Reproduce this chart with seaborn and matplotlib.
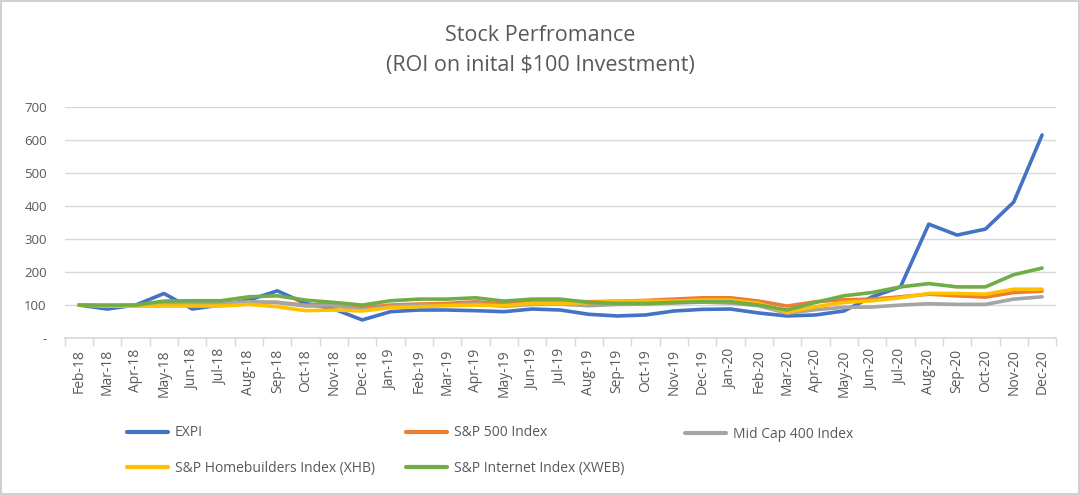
import numpy as np
import pandas as pd
import matplotlib
matplotlib.use("Agg")
import matplotlib.pyplot as plt
import seaborn as sns
from matplotlib.ticker import FixedLocator

months = ['Feb-18', 'Mar-18', 'Apr-18', 'May-18', 'Jun-18', 'Jul-18', 'Aug-18', 'Sep-18',
          'Oct-18', 'Nov-18', 'Dec-18', 'Jan-19', 'Feb-19', 'Mar-19', 'Apr-19', 'May-19',
          'Jun-19', 'Jul-19', 'Aug-19', 'Sep-19', 'Oct-19', 'Nov-19', 'Dec-19', 'Jan-20',
          'Feb-20', 'Mar-20', 'Apr-20', 'May-20', 'Jun-20', 'Jul-20', 'Aug-20', 'Sep-20',
          'Oct-20', 'Nov-20', 'Dec-20']

expi = [100, 88, 100, 135, 88, 100, 115, 143, 105, 88, 55, 80, 85, 85, 83, 80, 88, 85,
        72, 67, 70, 82, 87, 88, 76, 67, 70, 82, 125, 155, 345, 312, 330, 412, 615]
sp500 = [100, 97, 98, 100, 102, 105, 108, 108, 100, 102, 92, 100, 103, 105, 110, 103, 110, 112,
         110, 112, 114, 118, 122, 122, 112, 97, 110, 116, 118, 125, 133, 128, 124, 138, 142]
midcap = [100, 98, 100, 104, 105, 106, 110, 108, 97, 98, 86, 96, 100, 100, 104, 96, 102, 103,
          98, 102, 103, 106, 109, 106, 98, 75, 86, 93, 94, 100, 104, 102, 102, 118, 125]
homebuilders = [100, 97, 97, 97, 97, 97, 102, 95, 83, 85, 82, 92, 95, 98, 100, 98, 105, 105,
                107, 112, 112, 112, 115, 115, 105, 78, 95, 108, 113, 122, 135, 135, 133, 148, 148]
internet = [100, 100, 100, 112, 113, 113, 125, 128, 115, 108, 100, 113, 118, 118, 122, 112, 118, 118,
            108, 105, 105, 108, 110, 110, 100, 85, 108, 128, 138, 155, 165, 155, 155, 192, 212]

series_names = ['EXPI', 'S&P 500 Index', 'Mid Cap 400 Index',
                'S&P Homebuilders Index (XHB)', 'S&P Internet Index (XWEB)']
series_colors = ['#4472C4', '#ED7D31', '#A5A5A5', '#FFC000', '#70AD47']
y_ticks = [0, 100, 200, 300, 400, 500, 600, 700]
y_labels = ['-', '100', '200', '300', '400', '500', '600', '700']

# long table for seaborn
frames = []
for name, vals in zip(series_names, [expi, sp500, midcap, homebuilders, internet]):
    frames.append(pd.DataFrame({'Month': months, 'Value': vals, 'Series': name}))
df = pd.concat(frames, ignore_index=True)
df['idx'] = df['Month'].map({m: i for i, m in enumerate(months)})

sns.set_theme(style="white")
plt.rcParams['font.family'] = ['Open Sans', 'DejaVu Sans']
text_gray = '#595959'
grid_gray = '#d9d9d9'

fig = plt.figure(figsize=(10.8, 4.95), dpi=100, edgecolor='#d0d0d0', linewidth=1.5)
ax = fig.add_axes([0.060, 0.317, 0.918, 0.467])

sns.lineplot(data=df, x='idx', y='Value', hue='Series', hue_order=series_names,
             palette=series_colors, linewidth=2.6, ax=ax, legend=False)

ax.set_xlim(-0.5, len(months) - 0.5)
ax.set_ylim(0, 700)
ax.set_yticks(y_ticks)
ax.set_yticklabels(y_labels)
ax.yaxis.grid(True, color=grid_gray, linewidth=1)
ax.set_axisbelow(True)
ax.set_xticks(range(len(months)))
ax.set_xticklabels(months, rotation=90)
ax.xaxis.set_minor_locator(FixedLocator(np.arange(-0.5, len(months), 1.0)))
ax.tick_params(axis='x', which='major', length=0, pad=8, labelsize=10, labelcolor=text_gray)
ax.tick_params(axis='x', which='minor', length=6, width=1, color=grid_gray, direction='out', bottom=True)
ax.tick_params(axis='y', length=0, pad=13, labelsize=9.5, labelcolor=text_gray)
for s in ['top', 'right', 'left']:
    ax.spines[s].set_visible(False)
ax.spines['bottom'].set_color(grid_gray)
ax.set_xlabel('')
ax.set_ylabel('')

fig.text(0.5, 0.898, "Stock Perfromance\n(ROI on inital $100 Investment)", ha='center', va='center',
         fontsize=15.5, color=text_gray, linespacing=1.55)

# legend: three columns placed like the original
handles = {n: plt.Line2D([], [], color=c, linewidth=3) for n, c in zip(series_names, series_colors)}
leg_cols = [(['EXPI', 'S&P Homebuilders Index (XHB)'], 127),
            (['S&P 500 Index', 'S&P Internet Index (XWEB)'], 406),
            (['Mid Cap 400 Index'], 685)]
for names, xpix in leg_cols:
    ypix = 450.5 if len(names) == 2 else 434
    leg = fig.legend([handles[n] for n in names], names, loc='center left',
                     bbox_to_anchor=(xpix / 1080, 1 - ypix / 495), frameon=False,
                     fontsize=10, labelcolor=text_gray, handlelength=2.95, handletextpad=0.5,
                     labelspacing=1.45, borderpad=0, borderaxespad=0)

fig.savefig('out.png', dpi=100)
